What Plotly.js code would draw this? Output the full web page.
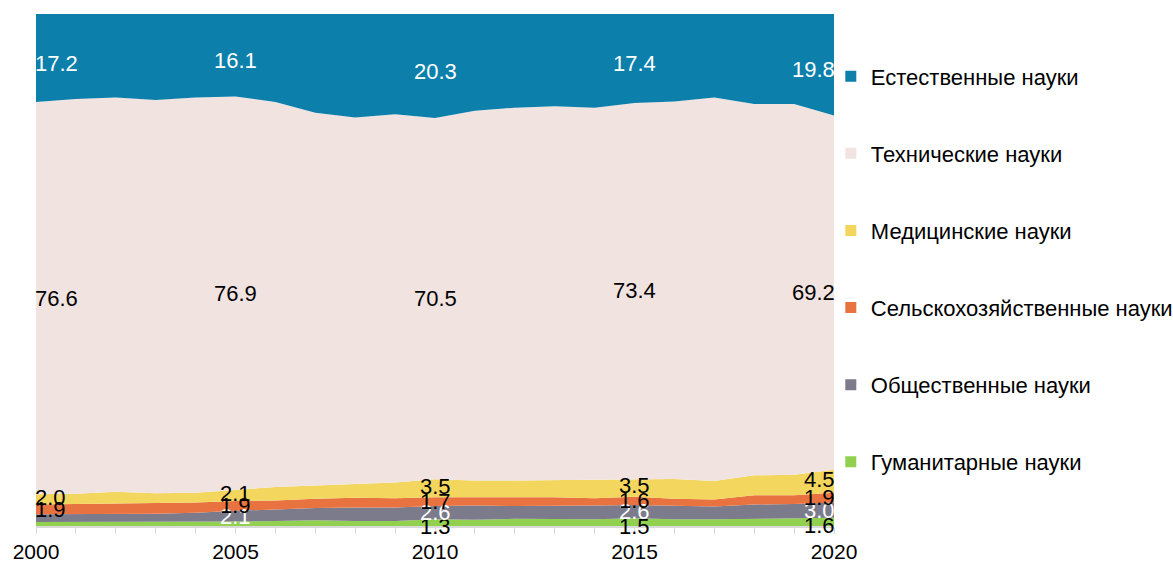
<!DOCTYPE html>
<html>
<head>
<meta charset="utf-8">
<script src="https://cdn.plot.ly/plotly-3.0.1.min.js"></script>
<style>html,body{margin:0;padding:0;background:#fff;}#chart{width:1173px;height:563px;}</style>
</head>
<body>
<div id="chart"></div>
<script>
const years = [2000,2001,2002,2003,2004,2005,2006,2007,2008,2009,2010,2011,2012,2013,2014,2015,2016,2017,2018,2019,2020];
const humanities   = [0.8,0.8,0.8,0.8,0.8,0.9,1.0,1.1,1.0,1.0,1.3,1.2,1.4,1.3,1.3,1.5,1.3,1.3,1.4,1.4,1.6];
const social       = [1.5,1.5,1.6,1.6,1.8,2.1,2.2,2.4,2.6,2.6,2.6,2.8,2.5,2.6,2.7,2.6,2.6,2.5,2.8,2.9,3.0];
const agricultural = [1.9,2.0,2.0,2.0,2.0,1.9,1.8,1.8,1.9,1.8,1.7,1.6,1.7,1.7,1.4,1.6,1.4,1.4,1.8,1.7,1.9];
const medical      = [2.0,2.0,2.3,2.0,1.9,2.1,2.6,2.6,2.7,3.1,3.5,3.3,3.3,3.4,3.6,3.5,3.9,3.6,3.9,4.0,4.5];
const technical    = [76.6,77.1,77.0,76.8,77.2,76.9,75.2,72.8,71.6,71.9,70.5,72.2,72.8,73.0,72.7,73.4,73.7,74.9,72.5,72.4,69.2];
const natural      = [17.2,16.6,16.3,16.8,16.3,16.1,17.2,19.3,20.2,19.6,20.3,18.9,18.3,18.0,18.3,17.4,17.1,16.3,17.6,17.6,19.8];

const seriesNames = ['Гуманитарные науки','Общественные науки','Сельскохозяйственные науки','Медицинские науки','Технические науки','Естественные науки'];
const seriesData = [humanities, social, agricultural, medical, technical, natural];
const seriesColors = ['#92d050','#7b7b8b','#e97340','#f3d65e','#f0e3e0','#0c7fab'];
const labelColors = ['#000','#fff','#000','#000','#000','#fff'];
const labelYears = [2000,2005,2010,2015,2020];
// which labels are shown per series (true = visible in the reference)
const labelShown = [
  [false,false,true,true,true],
  [false,true,true,true,true],
  [true,true,true,true,true],
  [true,true,true,true,true],
  [true,true,true,true,true],
  [true,true,true,true,true]
];
const labelYShift = [-4, 0, 0, 2, 0, -5];

const FONT = 'Liberation Sans, Arial, sans-serif';
const traces = [];
seriesData.forEach((d,i)=>{
  traces.push({
    x: years, y: d, type:'scatter', mode:'lines', stackgroup:'one', groupnorm:'percent',
    line:{width:0, color:seriesColors[i]}, fillcolor:seriesColors[i], showlegend:false,
    hoverinfo:'skip', name:seriesNames[i]
  });
});
// legend entries, top to bottom: natural ... humanities
for(let i=seriesNames.length-1;i>=0;i--){
  traces.push({
    x:[null], y:[null], type:'scatter', mode:'markers', name:seriesNames[i], legendgroup:'g'+i,
    marker:{symbol:'square', size:11, color:seriesColors[i]}, showlegend:true
  });
}

// label positions from cumulative (normalized) stack
const annotations = [];
labelYears.forEach((yr,k)=>{
  const idx = years.indexOf(yr);
  let total = 0; seriesData.forEach(d=>total+=d[idx]);
  let cum = 0;
  seriesData.forEach((d,i)=>{
    const v = d[idx];
    const mid = (cum + v/2)/total*100;
    cum += v;
    if(!labelShown[i][k]) return;
    annotations.push({
      x: yr, y: mid, xref:'x', yref:'y', text: v.toFixed(1), showarrow:false,
      xanchor: k===0 ? 'left' : (k===labelYears.length-1 ? 'right' : 'center'),
      yanchor:'middle', yshift: labelYShift[i], xshift: k===0 ? -3 : (k===labelYears.length-1 ? 3 : 0),
      font:{family:FONT, size:22, color:labelColors[i]}
    });
  });
});

const layout = {
  width:1173, height:563,
  margin:{l:36, r:339, t:14, b:37, pad:0, autoexpand:false},
  paper_bgcolor:'#fff', plot_bgcolor:'#fff',
  showlegend:true,
  legend:{x:0.996, xanchor:'left', y:0.919, yanchor:'top', traceorder:'grouped',
    tracegroupgap:45.5, bgcolor:'rgba(0,0,0,0)', font:{family:FONT, size:22, color:'#000'}, itemwidth:30},
  xaxis:{range:[2000,2020], tickvals:labelYears, ticktext:labelYears.map(String), ticks:'outside', ticklen:6,
    tickcolor:'#d9d9d9', tickwidth:1, showline:true, linecolor:'#d9d9d9', linewidth:2,
    showgrid:false, zeroline:false, fixedrange:true,
    minor:{dtick:1, ticks:'outside', ticklen:6, tickcolor:'#d9d9d9', tickwidth:1, showgrid:false},
    tickfont:{family:FONT, size:21, color:'#000'}, ticklabelstandoff:0},
  yaxis:{range:[0,100], visible:false, fixedrange:true, showgrid:false, zeroline:false},
  annotations: annotations
};
Plotly.newPlot('chart', traces, layout, {displayModeBar:false, staticPlot:true});
</script>
</body>
</html>
